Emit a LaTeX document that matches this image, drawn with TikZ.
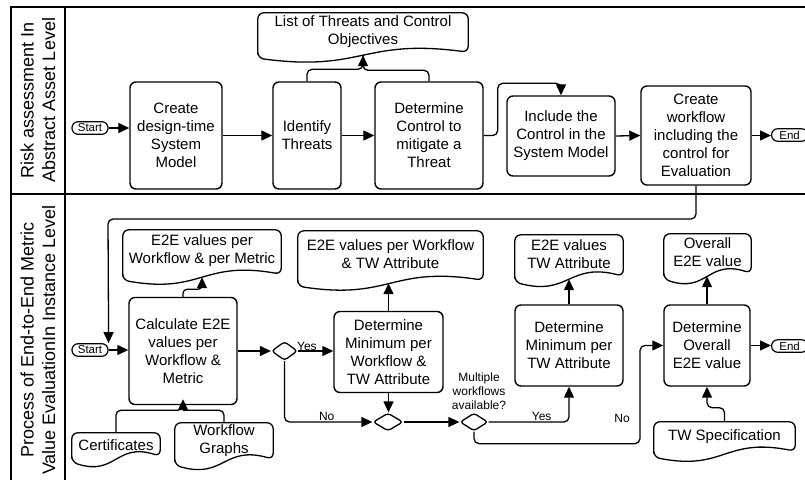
\documentclass[tikz,border=0pt]{standalone}
\usepackage{fontspec}
\setmainfont{Liberation Sans}
\usetikzlibrary{arrows.meta,calc,shapes.geometric}
\newcommand\myfs[2]{\fontsize{#1}{#2}\selectfont}
\newcommand\docshape[2]{%
  \draw[docline] ($(#1.south west)+(0,#2+3)$) -- (#1.north west) -- (#1.north east) -- ($(#1.south east)+(0,#2-3)$) .. controls ($(#1.south)+(0,#2-17)$) and ($(#1.south)+(0,#2+17)$) .. cycle;
  \coordinate (#1-b) at ($(#1.south)+(0,#2)$);
}
\tikzset{
 proc/.style={draw, line width=1.4pt, rounded corners=6pt, align=center, inner sep=0pt, font=\myfs{15}{18}},
 term/.style={draw, line width=1.2pt, rounded corners=6pt, inner sep=0pt, minimum height=12.5pt, font=\myfs{11.5}{13}},
 doc/.style={align=center, inner sep=0pt, font=\myfs{15}{18}},
 docline/.style={draw, line width=1.3pt, rounded corners=6pt},
 dec/.style={draw, diamond, line width=1.3pt, rounded corners=3pt, inner sep=0pt},
 arr/.style={line width=1.3pt, -{Triangle[length=11pt,width=10pt]}},
 conn/.style={line width=1.3pt},
 lbl/.style={font=\myfs{12}{14}, align=center, inner sep=1pt},
 lane/.style={line width=1.5pt},
 head/.style={rotate=90, align=center, font=\myfs{18}{21.5}},
}
\begin{document}
\begin{tikzpicture}[x=1pt,y=-1pt]
\useasboundingbox (0,0) rectangle (805,479);
\clip (0,0) rectangle (805,479);
% lanes
\draw[lane] (11,485) -- (11,7) -- (810,7);
\draw[lane] (65,7) -- (65,485);
\draw[lane] (11,194) -- (810,194);
\node[head] (h1) at (38,100) {Risk assessment In\\Abstract Asset Level};
\node[head] (h2) at (38,340) {Process of End-to-End Metric\\Value EvaluationIn Instance Level};
% top lane
\node[term, minimum width=36pt] (tstart) at (90,128) {Start};
\node[proc, minimum width=92pt, minimum height=107pt] (create) at (176,135.5) {Create\\design-time\\System\\Model};
\node[proc, minimum width=68pt, minimum height=107pt] (ident) at (307,135.5) {Identify\\Threats};
\node[proc, minimum width=108pt, minimum height=107pt] (determ) at (429,135.5) {Determine\\Control to\\mitigate a\\Threat};
\node[doc, minimum width=210pt, minimum height=38pt] (list) at (363,32) {List of Threats and Control\\Objectives};
\docshape{list}{4}
\node[proc, minimum width=108pt, minimum height=80pt] (incl) at (561,136) {Include the\\Control in the\\System Model};
\node[proc, minimum width=110pt, minimum height=99pt] (cwf) at (696,135.5) {Create\\workflow\\including the\\control for\\Evaluation};
\node[term, minimum width=36pt, anchor=west] (tend) at (771,135) {End};
\draw[arr] (tstart.east) -- (tstart.east -| create.west);
\draw[arr] (create.east) -- (ident.west);
\draw[arr] (ident.east) -- (determ.west);
\draw[conn, rounded corners=5pt] (determ.north) -- ++(0,-11) -| (list-b);
\draw[arr, rounded corners=5pt] (ident.north) -- ++(0,-12) -| (list-b);
\draw[arr, rounded corners=5pt] (determ.east) -- ++(14,0) |- ($(incl.north)+(0,-12)$) -- (incl.north);
\draw[arr] (incl.east) -- (cwf.west);
\draw[arr] (cwf.east) -- (cwf.east -| tend.west);
% bottom lane
\node[term, minimum width=36pt] (bstart) at (90,350) {Start};
\node[proc, minimum width=108pt, minimum height=107pt] (calc) at (183,351) {Calculate E2E\\values per\\Workflow \&\\Metric};
\node[doc, minimum width=158pt, minimum height=41pt] (doc1) at (202,250.5) {E2E values per\\Workflow \& per Metric};
\docshape{doc1}{6}
\node[dec, minimum width=26pt, minimum height=19pt] (dia1) at (284.5,351) {};
\node[proc, minimum width=109pt, minimum height=81pt] (dmin) at (388.5,352) {Determine\\Minimum per\\Workflow \&\\TW Attribute};
\node[doc, minimum width=185pt, minimum height=46pt] (doc2) at (390.5,254) {E2E values per Workflow\\\& TW Attribute};
\docshape{doc2}{6}
\node[dec, minimum width=30pt, minimum height=18pt] (dia2) at (388,422) {};
\node[dec, minimum width=28pt, minimum height=18pt] (dia3) at (474,422) {};
\node[lbl] (multi) at (479,391) {Multiple\\workflows\\available?};
\node[proc, minimum width=108pt, minimum height=81pt] (dtw) at (569,345.5) {Determine\\Minimum per\\TW Attribute};
\node[doc, minimum width=108pt, minimum height=39pt] (doc3) at (569,254.5) {E2E values\\TW Attribute};
\docshape{doc3}{5}
\node[proc, minimum width=86pt, minimum height=81pt] (dov) at (707,345.5) {Determine\\Overall\\E2E value};
\node[doc, minimum width=87pt, minimum height=37pt] (doc4) at (707.5,252.5) {Overall\\E2E value};
\docshape{doc4}{5}
\node[doc, minimum width=141pt, minimum height=30pt] (twspec) at (724.5,437) {TW Specification};
\docshape{twspec}{2}
\node[doc, minimum width=88pt, minimum height=24pt] (cert) at (116,445) {Certificates};
\docshape{cert}{2}
\node[doc, minimum width=98pt, minimum height=36pt] (wfg) at (224,441) {Workflow\\Graphs};
\docshape{wfg}{3}
\node[term, minimum width=36pt, anchor=west] (bend) at (771,346) {End};
\coordinate (jn) at (108,219);
\draw[arr, rounded corners=5pt] (cwf.south) |- (jn) -- (bstart.north east);
\draw[arr] (bstart.east) -- (bstart.east -| calc.west);
\draw[arr, rounded corners=4pt] (calc.north) -- ++(0,-7.5) -| (doc1-b);
\draw[conn, rounded corners=5pt] (wfg.north) |- ($(calc.south)+(0,5)$);
\draw[arr, rounded corners=5pt] (cert.north) |- ($(calc.south)+(0,5)$) -- ($(calc.south)+(0,-6)$);
\draw[arr] (calc.east) -- (dia1.west);
\draw[arr] (dia1.east) -- node[lbl, above, pos=0.25, inner sep=0pt] (yes1) {Yes} (dia1.east -| dmin.west);
\draw[arr, rounded corners=5pt] (dia1.south) |- node[lbl, above, pos=0.74] (no1) {No} (dia2.west);
\draw[arr] (dmin.south) -- (dmin.south |- dia2.north);
\draw[arr] (dmin.north) -- (dmin.north |- doc2-b);
\draw[arr] (dia2.east) -- (dia3.west);
\draw[arr, rounded corners=5pt] (dia3.east) -| node[lbl, above, pos=0.33] (yes2) {Yes} (dtw.south);
\draw[arr] (dtw.north) -- (doc3-b);
\coordinate (jn2) at (640,345.5);
\draw[arr, rounded corners=5pt] (dia3.south) -- ++(0,12) -| (jn2) -- (dov.west);
\node[lbl] (no2) at (622,418) {No};
\draw[arr] (dov.north) -- (dov.north |- doc4-b);
\draw[arr, rounded corners=5pt] (twspec.north) |- ($(dov.south)+(0,21)$) -- (dov.south);
\draw[arr] (dov.east) -- (dov.east -| bend.west);
\end{tikzpicture}
\end{document}
